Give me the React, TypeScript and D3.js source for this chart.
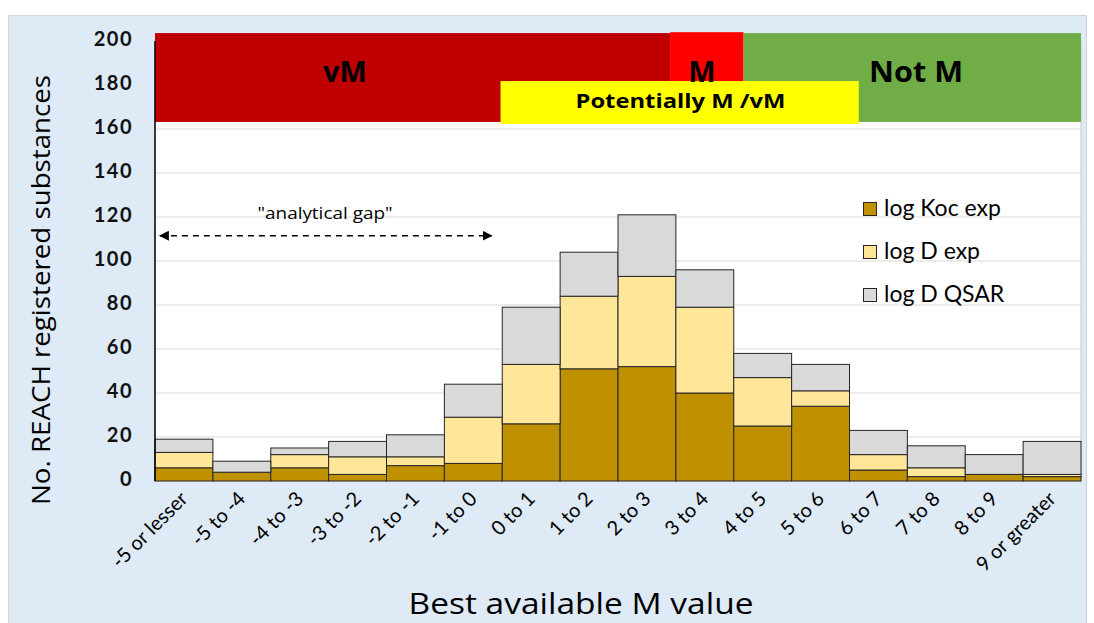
import React from "react";
import * as d3 from "d3";

const categories = ["-5 or lesser", "-5 to -4", "-4 to -3", "-3 to -2", "-2 to -1", "-1 to 0", "0 to 1", "1 to 2", "2 to 3", "3 to 4", "4 to 5", "5 to 6", "6 to 7", "7 to 8", "8 to 9", "9 or greater"];
const logKocExp = [6, 4, 6, 3, 7, 8, 26, 51, 52, 40, 25, 34, 5, 2, 3, 2];
const logDExp = [7, 0, 6, 8, 4, 21, 27, 33, 41, 39, 22, 7, 7, 4, 0, 1];
const logDQsar = [6, 5, 3, 7, 10, 15, 26, 20, 28, 17, 11, 12, 11, 10, 9, 15];
const seriesNames = ["log Koc exp", "log D exp", "log D QSAR"];
const yTicks = [0, 20, 40, 60, 80, 100, 120, 140, 160, 180, 200];

// classification bands, in category-index units (x) and count units (y)
const bandNames = ["vM", "M", "Not M", "Potentially M /vM"];
const bandFrom = [0, 8.9, 10.17, 5.97];
const bandTo = [8.9, 10.17, 16, 12.16];
const bandLow = [163.2, 163.2, 163.2, 162.3];
const bandHigh = [203.6, 204, 203.6, 181.8];
const bandLabelX = [3.28, 9.45, 13.15, 9.08];
const bandLabelY = [185, 185, 185, 172];

const gapFrom = 0.05;
const gapTo = 5.85;
const gapY = 111.5;

const W = 1094, H = 623;
const L = 155, R = 1081, T = 41, B = 481;
const colors = ["#BF9000", "#FFE699", "#D9D9D9"];
const bandColors = ["#C00000", "#FF0000", "#70AD47", "#FFFF00"];

export default function App() {
  const x = d3.scaleBand<string>().domain(categories).range([L, R]).padding(0);
  const xi = d3.scaleLinear().domain([0, 16]).range([L, R]);
  const y = d3.scaleLinear().domain([0, 200]).range([B, T]);

  const rows = categories.map((c, i) => ({ cat: c, k: logKocExp[i], d: logDExp[i], q: logDQsar[i] }));
  const stack = d3.stack<any>().keys(["k", "d", "q"])(rows);

  const font = "'Open Sans', 'Noto Sans', sans-serif";
  const geo = "Lato, 'Noto Sans', sans-serif";

  return (
    <svg width={W} height={H} style={{ position: "absolute", left: 0, top: 0 }}>
      <defs>
        <marker id="ah" viewBox="0 0 10 10" refX="9" refY="5" markerWidth="10" markerHeight="10" markerUnits="userSpaceOnUse" orient="auto-start-reverse">
          <path d="M0,0 L10,5 L0,10 z" fill="#000" />
        </marker>
      </defs>
      <rect x={0} y={0} width={W} height={H} fill="#fff" />
      <rect x={8.5} y={15.5} width={1078} height={620} fill="#DEEAF6" stroke="#D3D3D3" />
      <rect x={L} y={T} width={R - L} height={B - T} fill="#fff" stroke="#BFBFBF" strokeWidth={0.8} />
      {yTicks.map((t) => (
        <line key={t} x1={L} x2={R} y1={y(t)} y2={y(t)} stroke="#D9D9D9" strokeWidth={1.2} />
      ))}
      {stack.map((s, si) => (
        <g key={si}>
          {s.map((p, i) => (p[1] - p[0] > 0 ? (
            <rect key={i} x={x(categories[i])} y={y(p[1])} width={x.bandwidth()} height={y(p[0]) - y(p[1])}
              fill={colors[si]} stroke="#262626" strokeWidth={1} />
          ) : null))}
        </g>
      ))}
      {bandNames.map((n, i) => (
        <rect key={n} x={xi(bandFrom[i])} y={y(bandHigh[i])} width={xi(bandTo[i]) - xi(bandFrom[i])}
          height={y(bandLow[i]) - y(bandHigh[i])} fill={bandColors[i]} />
      ))}
      {bandNames.map((n, i) => (
        <text key={n} x={xi(bandLabelX[i])} y={y(bandLabelY[i])} textAnchor="middle" dominantBaseline="middle"
          fontFamily={font} fontWeight={700} fontSize={i === 3 ? 19 : 29} fill="#000"
          textLength={i === 3 ? 210 : i === 2 ? 94 : undefined} lengthAdjust="spacingAndGlyphs">{n}</text>
      ))}
      <line x1={L} x2={L} y1={T} y2={B} stroke="#000" strokeWidth={1.5} />
      {yTicks.map((t) => (
        <text key={t} x={133} y={y(t)} textAnchor="end" dominantBaseline="middle" fontFamily={geo}
          fontWeight={700} fontSize={20} letterSpacing={1.5} fill="#111">{t}</text>
      ))}
      {categories.map((c) => (
        <text key={c} transform={`translate(${(x(c) as number) + x.bandwidth() / 2 + 5},${500}) rotate(-45)`}
          textAnchor="end" fontFamily={geo} fontSize={20} fill="#000">{c}</text>
      ))}
      <text transform={`translate(50,290) rotate(-90)`} textAnchor="middle" fontFamily={font} fontSize={26}
        fill="#000" textLength={430} lengthAdjust="spacingAndGlyphs">No. REACH registered substances</text>
      <text x={581} y={614} textAnchor="middle" fontFamily={font} fontSize={29} fill="#000"
        textLength={345} lengthAdjust="spacingAndGlyphs">Best available M value</text>
      <text x={325} y={219} textAnchor="middle" fontFamily={font} fontSize={16} fill="#000"
        textLength={135} lengthAdjust="spacingAndGlyphs">"analytical gap"</text>
      <line x1={xi(gapFrom) + 2} x2={xi(gapTo) - 2} y1={y(gapY)} y2={y(gapY)} stroke="#000" strokeWidth={1.6}
        strokeDasharray="6,5" markerStart="url(#ah)" markerEnd="url(#ah)" />
      {seriesNames.map((n, i) => (
        <g key={n} transform={`translate(863,${202 + i * 43})`}>
          <rect x={0.5} y={0.5} width={13} height={13} fill={colors[i]} stroke="#262626" />
          <text x={21} y={14} fontFamily={geo} fontSize={23} fill="#000">{n}</text>
        </g>
      ))}
    </svg>
  );
}
